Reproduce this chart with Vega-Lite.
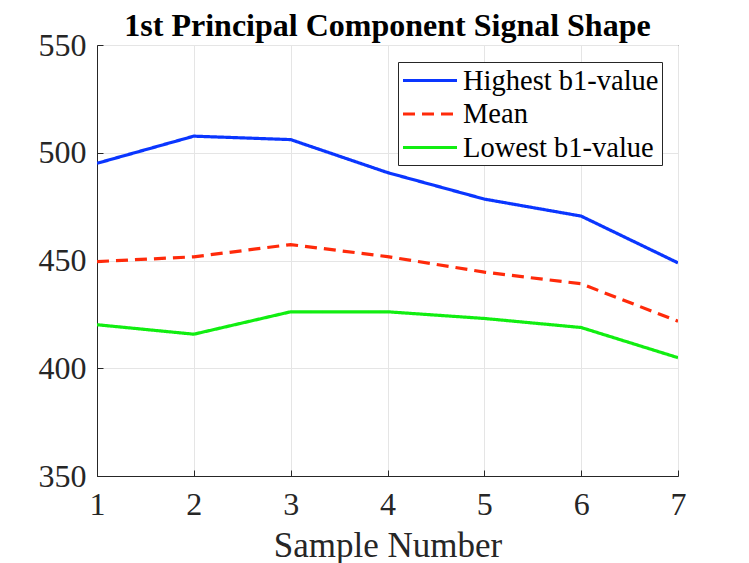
{
  "$schema": "https://vega.github.io/schema/vega-lite/v6.json",
  "width": 581,
  "height": 431,
  "autosize": {"type": "none"},
  "padding": {"left": 97, "top": 45, "right": 71, "bottom": 87},
  "background": "white",
  "title": {
    "text": "1st Principal Component Signal Shape",
    "font": "Liberation Serif",
    "fontSize": 32,
    "fontWeight": "bold",
    "color": "#000000",
    "anchor": "middle",
    "offset": -14
  },
  "config": {
    "view": {"stroke": "#262626", "strokeWidth": 1}
  },
  "data": {
    "values": [
      {"sample": 1, "series": "Highest b1-value", "value": 495.1},
      {"sample": 2, "series": "Highest b1-value", "value": 507.7},
      {"sample": 3, "series": "Highest b1-value", "value": 506.1},
      {"sample": 4, "series": "Highest b1-value", "value": 490.8},
      {"sample": 5, "series": "Highest b1-value", "value": 478.5},
      {"sample": 6, "series": "Highest b1-value", "value": 470.6},
      {"sample": 7, "series": "Highest b1-value", "value": 448.9},
      {"sample": 1, "series": "Mean", "value": 449.5},
      {"sample": 2, "series": "Mean", "value": 451.7},
      {"sample": 3, "series": "Mean", "value": 457.4},
      {"sample": 4, "series": "Mean", "value": 451.8},
      {"sample": 5, "series": "Mean", "value": 444.6},
      {"sample": 6, "series": "Mean", "value": 439.2},
      {"sample": 7, "series": "Mean", "value": 421.8},
      {"sample": 1, "series": "Lowest b1-value", "value": 420.2},
      {"sample": 2, "series": "Lowest b1-value", "value": 415.8},
      {"sample": 3, "series": "Lowest b1-value", "value": 426.2},
      {"sample": 4, "series": "Lowest b1-value", "value": 426.2},
      {"sample": 5, "series": "Lowest b1-value", "value": 423.1},
      {"sample": 6, "series": "Lowest b1-value", "value": 418.9},
      {"sample": 7, "series": "Lowest b1-value", "value": 404.9}
    ]
  },
  "mark": {"type": "line", "strokeWidth": 3.2, "clip": true},
  "encoding": {
    "x": {
      "field": "sample",
      "type": "quantitative",
      "scale": {"domain": [1, 7], "nice": false, "zero": false},
      "axis": {
        "title": "Sample Number",
        "values": [1, 2, 3, 4, 5, 6, 7],
        "format": "d",
        "grid": true,
        "gridColor": "#e5e5e5",
        "domainColor": "#262626",
        "tickColor": "#262626",
        "tickSize": -6,
        "labelFlush": false,
        "labelPadding": 19,
        "labelFont": "Liberation Serif",
        "labelFontSize": 32,
        "labelColor": "#262626",
        "titleFont": "Liberation Serif",
        "titleFontSize": 35,
        "titleFontWeight": "normal",
        "titleColor": "#262626",
        "titlePadding": 8
      }
    },
    "y": {
      "field": "value",
      "type": "quantitative",
      "scale": {"domain": [350, 550], "nice": false, "zero": false},
      "axis": {
        "title": null,
        "values": [350, 400, 450, 500, 550],
        "grid": true,
        "gridColor": "#e5e5e5",
        "domainColor": "#262626",
        "tickColor": "#262626",
        "tickSize": -6,
        "labelPadding": 17,
        "labelFont": "Liberation Serif",
        "labelFontSize": 32,
        "labelColor": "#262626"
      }
    },
    "color": {
      "field": "series",
      "type": "nominal",
      "scale": {
        "domain": ["Highest b1-value", "Mean", "Lowest b1-value"],
        "range": ["#0a36ff", "#ff2a0a", "#11ee11"]
      },
      "legend": {
        "title": null,
        "orient": "none",
        "legendX": 301,
        "legendY": 17,
        "symbolType": "M-1,0H3",
        "symbolSize": 729,
        "symbolStrokeWidth": 3.2,
        "labelFont": "Liberation Serif",
        "labelFontSize": 28.5,
        "labelColor": "#000000",
        "labelOffset": 31,
        "rowPadding": 3.5,
        "padding": 3,
        "strokeColor": "#262626",
        "fillColor": "white",
        "labelLimit": 400
      }
    },
    "strokeDash": {
      "field": "series",
      "type": "nominal",
      "scale": {
        "domain": ["Highest b1-value", "Mean", "Lowest b1-value"],
        "range": [[1, 0], [12, 7], [1, 0]]
      },
      "legend": null
    }
  }
}
